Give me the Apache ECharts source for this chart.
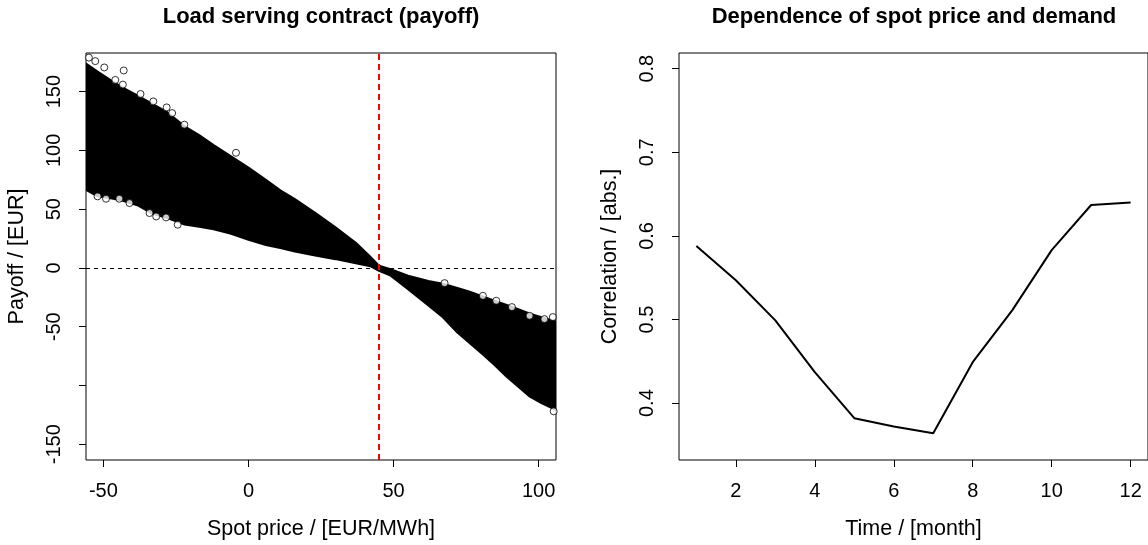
<!DOCTYPE html>
<html>
<head>
<meta charset="utf-8">
<script src="https://cdn.jsdelivr.net/npm/echarts@6/dist/echarts.min.js"></script>
<style>
html,body{margin:0;padding:0;background:#fff;}
#chart{width:1148px;height:545px;}
</style>
</head>
<body>
<div id="chart"></div>
<script>
// ---- Left panel: envelope of the simulated payoff cloud
const cloudX     = [-56, -52, -47, -43, -38, -33, -28, -22, -17, -12, -6, 0, 6, 11, 16, 23, 30, 37, 42, 45, 49, 55, 62, 67, 72, 76, 81, 85, 89, 93, 97, 101, 106];
const cloudUpper = [174, 167, 159, 153, 146.5, 139.5, 132.5, 120.5, 113, 104.5, 95, 85.5, 75, 66, 58.5, 47, 34.5, 21.5, 9.5, 2, -1, -6.5, -11, -13.5, -17, -20, -24.5, -28, -31.5, -35, -39, -42, -45.5];
const cloudLower = [66.5, 61, 59, 57, 53, 46, 42.5, 37, 35, 33, 29, 24, 19.5, 17, 14, 10.5, 7.5, 4, 1.5, -2.5, -6.5, -18, -32, -42, -55, -63.5, -74, -83, -92.5, -101, -109.5, -115, -121];
// isolated open circles along the edges of the cloud
const outlierX = [-55, -52.8, -49.7, -43, -45.9, -43.3, -37.2, -32.8, -28.2, -26.3, -22.1, -4.3, -52, -49.1, -44.5, -41, -34.1, -31.8, -28.4, -24.4, 67.6, 80.8, 85.4, 90.8, 96.9, 102, 104.9, 105.2];
const outlierY = [179, 176, 170.6, 168, 160, 156, 148, 141.7, 136.6, 131.8, 121.9, 98, 60.9, 58.9, 58.9, 55.2, 46.7, 43.8, 43, 36.8, -12.9, -23.7, -27.9, -33.3, -40.7, -43.5, -41.8, -122];
const breakEvenPrice = 45;
const priceTicks = [-50, 0, 50, 100];
const payoffTicks = [-150, -100, -50, 0, 50, 100, 150];
const payoffLabels = [-150, -50, 0, 50, 100, 150];

// ---- Right panel: correlation by month
const months = [1, 2, 3, 4, 5, 6, 7, 8, 9, 10, 11, 12];
const correlation = [0.588, 0.547, 0.499, 0.437, 0.382, 0.372, 0.364, 0.449, 0.511, 0.583, 0.637, 0.640];
const monthTicks = [2, 4, 6, 8, 10, 12];
const corrTicks = [0.4, 0.5, 0.6, 0.7, 0.8];

const FONT = '"Liberation Sans", Arial, sans-serif';
const chart = echarts.init(document.getElementById('chart'), null, {renderer: 'canvas'});

function axisCommon(ticks, labels, rotate, margin) {
  return {
    axisLine: {show: false, onZero: false},
    splitLine: {show: false},
    axisTick: {show: true, inside: false, length: 7, customValues: ticks, lineStyle: {color: '#000', width: 1}},
    axisLabel: {show: true, customValues: labels, rotate: rotate, color: '#000', fontFamily: FONT, fontSize: 20, margin: margin},
    nameLocation: 'middle',
    nameTextStyle: {color: '#000', fontFamily: FONT, fontSize: 21.5}
  };
}

const pts = outlierX.map((x, i) => [x, outlierY[i]]);
const linePts = months.map((m, i) => [m, correlation[i]]);

const option = {
  animation: false,
  backgroundColor: '#fff',
  title: [
    {text: 'Load serving contract (payoff)', left: 321, top: 6, textAlign: 'center', padding: 0,
     textStyle: {fontFamily: FONT, fontSize: 22, fontWeight: 'bold', color: '#000'}},
    {text: 'Dependence of spot price and demand', left: 914, top: 6, textAlign: 'center', padding: 0,
     textStyle: {fontFamily: FONT, fontSize: 22, fontWeight: 'bold', color: '#000'}}
  ],
  grid: [
    {left: 86, top: 53, width: 470, height: 407, show: true, borderColor: '#000', borderWidth: 1, backgroundColor: 'transparent'},
    {left: 679, top: 53, width: 470, height: 407, show: true, borderColor: '#000', borderWidth: 1, backgroundColor: 'transparent'}
  ],
  xAxis: [
    Object.assign(axisCommon(priceTicks, priceTicks, 0, 21), {type: 'value', gridIndex: 0, min: -56, max: 106, name: 'Spot price / [EUR/MWh]', nameGap: 58}),
    Object.assign(axisCommon(monthTicks, monthTicks, 0, 21), {type: 'value', gridIndex: 1, min: 0.56, max: 12.44, name: 'Time / [month]', nameGap: 58})
  ],
  yAxis: [
    Object.assign(axisCommon(payoffTicks, payoffLabels, 90, 22), {type: 'value', gridIndex: 0, min: -163.4, max: 182.9, name: 'Payoff / [EUR]', nameGap: 58}),
    Object.assign(axisCommon(corrTicks, corrTicks, 90, 22), {type: 'value', gridIndex: 1, min: 0.332, max: 0.8188, name: 'Correlation / [abs.]', nameGap: 58})
  ],
  series: [
    {
      type: 'custom', xAxisIndex: 0, yAxisIndex: 0, z: 2, clip: true, silent: true,
      data: [[cloudX[0], cloudUpper[0]]],
      encode: {x: 0, y: 1},
      renderItem: function (params, api) {
        const poly = [];
        for (let i = 0; i < cloudX.length; i++) poly.push(api.coord([cloudX[i], cloudUpper[i]]));
        for (let i = cloudX.length - 1; i >= 0; i--) poly.push(api.coord([cloudX[i], cloudLower[i]]));
        return {type: 'polygon', shape: {points: poly}, style: {fill: '#000', stroke: '#000', lineWidth: 2, lineJoin: 'round'}};
      }
    },
    {
      type: 'scatter', xAxisIndex: 0, yAxisIndex: 0, z: 3, silent: true,
      data: pts, symbol: 'circle', symbolSize: 7,
      itemStyle: {color: '#fff', borderColor: '#000', borderWidth: 1},
      markLine: {
        silent: true, symbol: 'none', animation: false,
        label: {show: false},
        data: [
          {yAxis: 0, lineStyle: {color: '#000', type: [4, 4], width: 1}},
          {xAxis: breakEvenPrice, lineStyle: {color: '#ff0000', type: [6, 4], width: 2}}
        ]
      }
    },
    {
      type: 'line', xAxisIndex: 1, yAxisIndex: 1, z: 3, silent: true,
      data: linePts, showSymbol: false, symbol: 'none',
      lineStyle: {color: '#000', width: 2}
    }
  ]
};
chart.setOption(option);
</script>
</body>
</html>
